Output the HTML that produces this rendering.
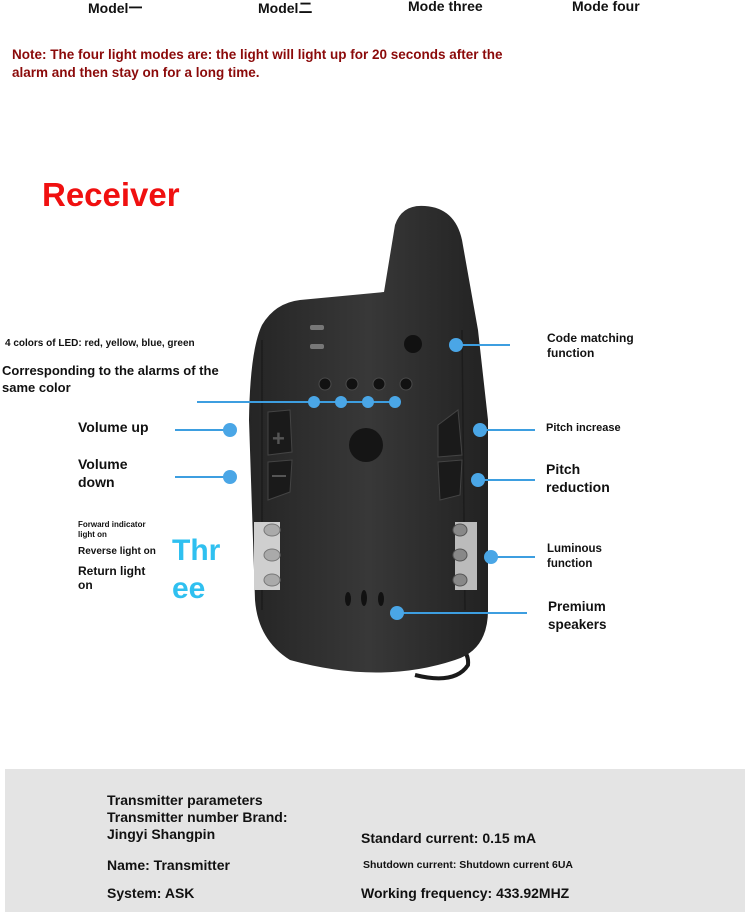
<!DOCTYPE html>
<html><head><meta charset="utf-8"><style>
body{margin:0;width:750px;height:912px;background:#fff;position:relative;overflow:hidden;font-family:"Liberation Sans","Noto Sans CJK SC",sans-serif;font-weight:bold}
.t{position:absolute;white-space:nowrap;color:#111}
</style></head><body>
<div class="t" style="left:88px;top:-2px;font-size:14px">Model一</div>
<div class="t" style="left:258px;top:-2px;font-size:14px">Model二</div>
<div class="t" style="left:408px;top:-2px;font-size:14px">Mode three</div>
<div class="t" style="left:572px;top:-2px;font-size:14px">Mode four</div>
<div class="t" style="left:12px;top:46px;font-size:13.5px;color:#8b0a0a;line-height:18px">Note: The four light modes are: the light will light up for 20 seconds after the<br>alarm and then stay on for a long time.</div>
<div class="t" style="left:42px;top:176px;font-size:33px;color:#f01010">Receiver</div>

<svg style="position:absolute;left:0;top:0" width="750" height="912">
<defs><linearGradient id="g" x1="0" x2="1"><stop offset="0" stop-color="#252525"/><stop offset=".5" stop-color="#383838"/><stop offset="1" stop-color="#222"/></linearGradient></defs>
<path d="M440 640 Q470 645 468 665 Q455 685 415 675" fill="none" stroke="#1a1a1a" stroke-width="4"/>
<path d="M425 206 Q455 208 462 240 L478 330 L488 420 L488 610 Q488 650 455 660 Q380 685 290 660 Q258 640 255 600 L249 420 Q250 350 262 325 Q275 303 300 300 L384 292 L395 225 Q402 204 425 206 Z" fill="url(#g)"/>
<path d="M262 340 L262 610" stroke="#1c1c1c" stroke-width="1.5"/>
<path d="M462 330 L465 610" stroke="#1c1c1c" stroke-width="1.5"/>
<rect x="310" y="325" width="14" height="5" rx="2" fill="#777"/><rect x="310" y="344" width="14" height="5" rx="2" fill="#777"/>
<circle cx="413" cy="344" r="9" fill="#111"/>
<g fill="#111" stroke="#4a4a4a"><circle cx="325" cy="384" r="6"/><circle cx="352" cy="384" r="6"/><circle cx="379" cy="384" r="6"/><circle cx="406" cy="384" r="6"/></g>
<circle cx="366" cy="445" r="17" fill="#151515"/>
<path d="M268 412 L290 410 L292 452 L268 455 Z" fill="#1a1a1a" stroke="#444"/><text x="272" y="446" font-size="22" fill="#555" font-family="Liberation Sans">+</text>
<path d="M268 462 L292 460 L290 492 L268 500 Z" fill="#1a1a1a" stroke="#444"/><rect x="272" y="475" width="14" height="2" fill="#555"/>
<path d="M438 425 L458 410 L462 455 L438 457 Z" fill="#1a1a1a" stroke="#444"/>
<path d="M438 462 L462 460 L460 495 L440 500 Z" fill="#1a1a1a" stroke="#444"/>
<rect x="254" y="522" width="26" height="68" fill="#cfcfcf"/>
<g fill="#aaa" stroke="#777"><ellipse cx="272" cy="530" rx="8" ry="6"/><ellipse cx="272" cy="555" rx="8" ry="6"/><ellipse cx="272" cy="580" rx="8" ry="6"/></g>
<rect x="455" y="522" width="22" height="68" fill="#bbb"/>
<g fill="#888" stroke="#555"><ellipse cx="460" cy="530" rx="7" ry="6"/><ellipse cx="460" cy="555" rx="7" ry="6"/><ellipse cx="460" cy="580" rx="7" ry="6"/></g>
<g fill="#111"><ellipse cx="348" cy="599" rx="3" ry="7"/><ellipse cx="364" cy="598" rx="3" ry="8"/><ellipse cx="381" cy="599" rx="3" ry="7"/></g>
<g stroke="#3d9ee0" stroke-width="2" fill="#4aa6e6">
<line x1="197" y1="402" x2="395" y2="402"/>
<circle cx="314" cy="402" r="6" stroke="none"/><circle cx="341" cy="402" r="6" stroke="none"/><circle cx="368" cy="402" r="6" stroke="none"/><circle cx="395" cy="402" r="6" stroke="none"/>
<line x1="175" y1="430" x2="230" y2="430"/><circle cx="230" cy="430" r="7" stroke="none"/>
<line x1="175" y1="477" x2="230" y2="477"/><circle cx="230" cy="477" r="7" stroke="none"/>
<line x1="456" y1="345" x2="510" y2="345"/><circle cx="456" cy="345" r="7" stroke="none"/>
<line x1="480" y1="430" x2="535" y2="430"/><circle cx="480" cy="430" r="7" stroke="none"/>
<line x1="478" y1="480" x2="535" y2="480"/><circle cx="478" cy="480" r="7" stroke="none"/>
<line x1="491" y1="557" x2="535" y2="557"/><circle cx="491" cy="557" r="7" stroke="none"/>
<line x1="397" y1="613" x2="527" y2="613"/><circle cx="397" cy="613" r="7" stroke="none"/>
</g>
</svg>

<div class="t" style="left:5px;top:338px;font-size:10px">4 colors of LED: red, yellow, blue, green</div>
<div class="t" style="left:2px;top:362px;font-size:13px;line-height:17px">Corresponding to the alarms of the<br>same color</div>
<div class="t" style="left:78px;top:419px;font-size:14px">Volume up</div>
<div class="t" style="left:78px;top:455px;font-size:14px;line-height:18px">Volume<br>down</div>
<div class="t" style="left:78px;top:520px;font-size:8px;line-height:10px">Forward indicator<br>light on</div>
<div class="t" style="left:78px;top:546px;font-size:10px">Reverse light on</div>
<div class="t" style="left:78px;top:564px;font-size:12px;line-height:14px">Return light<br>on</div>
<div class="t" style="left:172px;top:532px;font-size:30px;color:#2fc0f0;line-height:38px">Thr<br>ee</div>
<div class="t" style="left:547px;top:331px;font-size:12px;line-height:15px">Code matching<br>function</div>
<div class="t" style="left:546px;top:422px;font-size:11px">Pitch increase</div>
<div class="t" style="left:546px;top:460px;font-size:14px;line-height:18px">Pitch<br>reduction</div>
<div class="t" style="left:547px;top:542px;font-size:11.5px;line-height:15px">Luminous<br>function</div>
<div class="t" style="left:548px;top:598px;font-size:13.5px;line-height:18px">Premium<br>speakers</div>

<div style="position:absolute;left:5px;top:769px;width:740px;height:143px;background:#e4e4e4"></div>
<div class="t" style="left:107px;top:792px;font-size:14px;line-height:17px">Transmitter parameters<br>Transmitter number Brand:<br>Jingyi Shangpin</div>
<div class="t" style="left:107px;top:857px;font-size:14px">Name: Transmitter</div>
<div class="t" style="left:107px;top:885px;font-size:14px">System: ASK</div>
<div class="t" style="left:361px;top:830px;font-size:14px">Standard current: 0.15 mA</div>
<div class="t" style="left:363px;top:859px;font-size:10.5px">Shutdown current: Shutdown current 6UA</div>
<div class="t" style="left:361px;top:885px;font-size:14px">Working frequency: 433.92MHZ</div>
</body></html>
